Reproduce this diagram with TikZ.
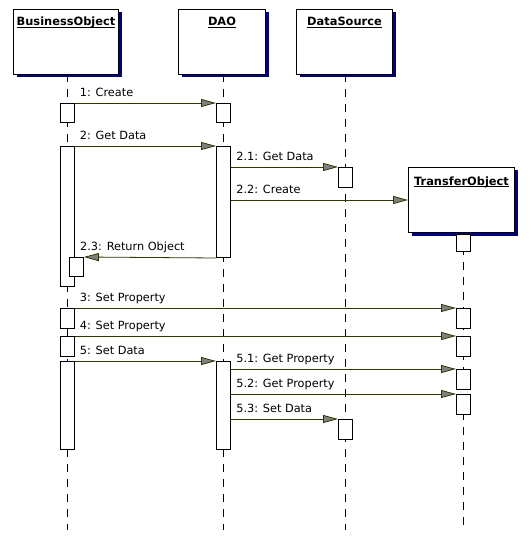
\documentclass[tikz,border=0pt]{standalone}
\usepackage{fontspec}
\setmainfont{DejaVu Sans}
\usetikzlibrary{arrows.meta,shadows}

\definecolor{msgline}{HTML}{333300}
\definecolor{tipgray}{HTML}{808080}
\definecolor{shadenavy}{HTML}{000080}

% bold header text with a thin rule just under the baseline
\newcommand\ulhdr[1]{\setbox0\hbox{#1}\rlap{\rule[-2pt]{\wd0}{0.9pt}}\box0}

\begin{document}
\begin{tikzpicture}[x=1pt,y=-1pt,
  objbox/.style={draw=black, fill=white, line width=1pt, minimum width=#1,
    minimum height=65pt, inner sep=0pt, anchor=north,
    drop shadow={shadow xshift=3pt, shadow yshift=-3pt, fill=shadenavy, opacity=1}},
  hdr/.style={font=\fontsize{11.4pt}{13pt}\selectfont\bfseries, inner sep=0pt, anchor=base},
  lifeline/.style={draw=black, line width=1pt, dash pattern=on 8pt off 7pt},
  actbar/.style={draw=black, fill=white, line width=1pt, minimum width=14pt,
    inner sep=0pt, anchor=north},
  msg/.style={draw=msgline, line width=0.8pt,
    -{Triangle[length=15pt,width=8pt,fill=tipgray]}},
  lbl/.style={font=\fontsize{11.3pt}{13pt}\selectfont, inner sep=0pt,
    anchor=base west, xshift=5pt, yshift=6.5pt, text=black}
]
\useasboundingbox (0,0) rectangle (530,540);

% object boxes
\node[objbox=105pt] (bo) at (66,9) {};
\node[objbox=87pt]  (dao) at (222,9) {};
\node[objbox=96pt]  (ds) at (344.5,9) {};
\node[objbox=106pt] (to) at (461.5,167) {};

\node[hdr] (bo-t)  at ([yshift=-17pt]bo.north)  {\ulhdr{BusinessObject}};
\node[hdr] (dao-t) at ([yshift=-17pt]dao.north) {\ulhdr{DAO}};
\node[hdr] (ds-t)  at ([yshift=-17pt]ds.north)  {\ulhdr{DataSource}};
\node[hdr] (to-t)  at ([yshift=-18pt]to.north)  {\ulhdr{TransferObject}};

% lifelines
\coordinate (bo-end)  at (67,530);
\coordinate (dao-end) at (223.5,530);
\coordinate (ds-end)  at (345.5,530);
\coordinate (to-end)  at (463.5,530);
\coordinate (bo-top)  at (67,74);
\coordinate (dao-top) at (223.5,74);
\coordinate (ds-top)  at (345.5,74);
\coordinate (to-top)  at (463.5,232);
\draw[lifeline] (bo-top) -- (bo-end);
\draw[lifeline] (dao-top) -- (dao-end);
\draw[lifeline] (ds-top) -- (ds-end);
\draw[lifeline] (to-top) -- (to-end);

% activation bars
\node[actbar, minimum height=19pt]  (bo1)  at (67,103) {};
\node[actbar, minimum height=19pt]  (dao1) at (223.5,103) {};
\node[actbar, minimum height=140pt] (bo2)  at (67,146) {};
\node[actbar, minimum height=111pt] (dao2) at (223.5,146) {};
\node[actbar, minimum height=20pt]  (ds1)  at (345.5,167) {};
\node[actbar, minimum height=17pt]  (to1)  at (463.5,234) {};
\node[actbar, minimum height=19pt]  (ret)  at (76.3,257) {};
\node[actbar, minimum height=20pt]  (bo3)  at (67,308) {};
\node[actbar, minimum height=20pt]  (to2)  at (463.5,308) {};
\node[actbar, minimum height=20pt]  (bo4)  at (67,336) {};
\node[actbar, minimum height=20pt]  (to3)  at (463.5,336) {};
\node[actbar, minimum height=88pt]  (bo5)  at (67,361) {};
\node[actbar, minimum height=88pt]  (dao3) at (223.5,361) {};
\node[actbar, minimum height=20pt]  (to4)  at (463.5,369) {};
\node[actbar, minimum height=20pt]  (to5)  at (463.5,394) {};
\node[actbar, minimum height=20pt]  (ds2)  at (345.5,419) {};

% messages
\draw[msg] (bo1.north east) -- (dao1.north west) node[lbl, pos=0] {1: Create};
\draw[msg] (bo2.north east) -- (dao2.north west) node[lbl, pos=0] {2: Get Data};
\draw[msg] (dao2.east |- ds1.north) -- (ds1.north west) node[lbl, pos=0] {2.1: Get Data};
\draw[msg] (dao2.east |- to.west) -- (to.west) node[lbl, pos=0] {2.2: Create};
\draw[msg] (dao2.south west) -- (ret.north east) node[lbl, pos=1, xshift=-9pt] {2.3: Return Object};
\draw[msg] (bo3.north east) -- (to2.north west) node[lbl, pos=0] {3: Set Property};
\draw[msg] (bo4.north east) -- (to3.north west) node[lbl, pos=0] {4: Set Property};
\draw[msg] (bo5.north east) -- (dao3.north west) node[lbl, pos=0] {5: Set Data};
\draw[msg] (dao3.east |- to4.north) -- (to4.north west) node[lbl, pos=0] {5.1: Get Property};
\draw[msg] (dao3.east |- to5.north) -- (to5.north west) node[lbl, pos=0] {5.2: Get Property};
\draw[msg] (dao3.east |- ds2.north) -- (ds2.north west) node[lbl, pos=0] {5.3: Set Data};
\end{tikzpicture}
\end{document}
